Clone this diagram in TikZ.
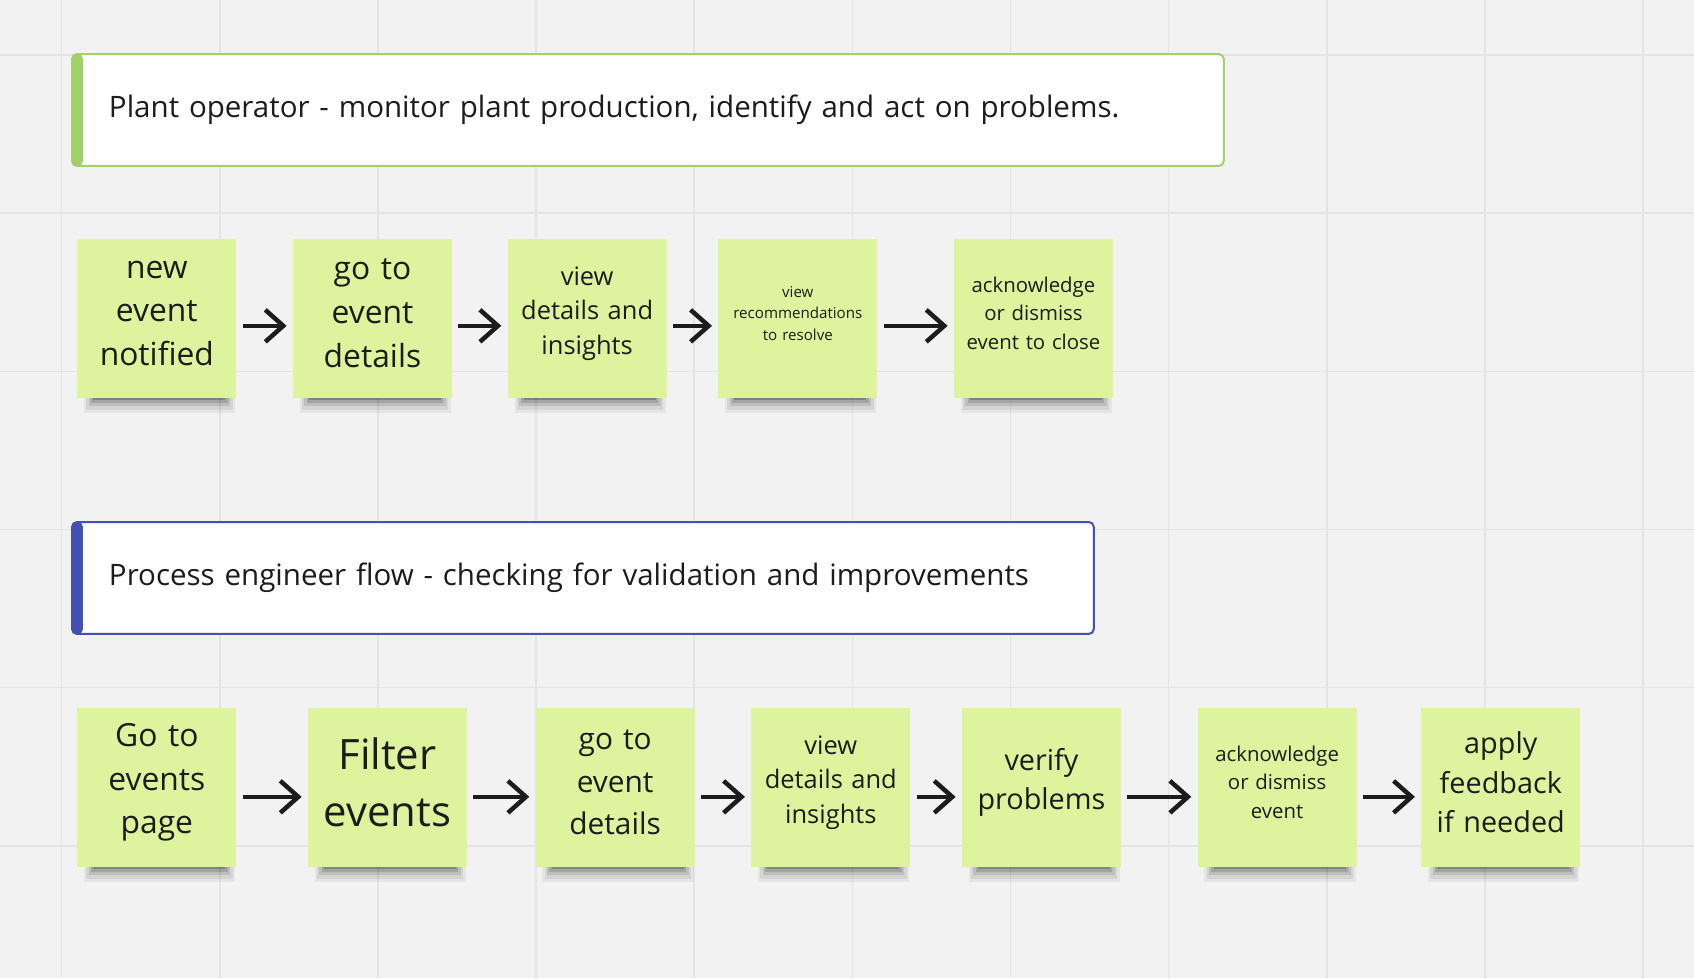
\documentclass[tikz,border=0pt]{standalone}
\usepackage{fontspec}
\setmainfont{Open Sans}
\usepackage{tikz}
\usetikzlibrary{arrows.meta, positioning, backgrounds, shadows}
\definecolor{boardGrey}{HTML}{F2F2F2}
\definecolor{boardLine}{HTML}{E4E4E4}
\definecolor{stickyLime}{HTML}{DEF39E}
\definecolor{hdrGreen}{HTML}{A2D06A}
\definecolor{hdrBlue}{HTML}{4251B3}
\definecolor{inkBlack}{HTML}{1C1C1C}

\begin{document}
\begin{tikzpicture}[
  x=0.02cm, y=-0.02cm,
  note/.style={fill=stickyLime, minimum width=3.18cm, minimum height=3.18cm, inner sep=0pt,
               text width=3.1cm, align=center, text=inkBlack,
               execute at end node={\endgraf\vspace*{0.22cm}},
               general shadow={fill=black, opacity=.05, shadow scale=.95, shadow xshift=.06cm, shadow yshift=-.400cm},
               general shadow={fill=black, opacity=.07, shadow scale=.92, shadow xshift=.06cm, shadow yshift=-.387cm},
               general shadow={fill=black, opacity=.10, shadow scale=.89, shadow xshift=.06cm, shadow yshift=-.375cm},
               general shadow={fill=black, opacity=.14, shadow scale=.86, shadow xshift=.06cm, shadow yshift=-.363cm},
               general shadow={fill=black, opacity=.20, shadow scale=.83, shadow xshift=.06cm, shadow yshift=-.370cm},
               general shadow={fill=black, opacity=.28, shadow scale=.80, shadow xshift=.06cm, shadow yshift=-.378cm}},
  fXL/.style={font=\fontsize{23.8}{32.3}\selectfont},
  fL/.style={font=\fontsize{18.1}{24.9}\selectfont},
  fL2/.style={font=\fontsize{17}{24.4}\selectfont},
  fML/.style={font=\fontsize{16.4}{22.4}\selectfont},
  fM/.style={font=\fontsize{14.5}{19.6}\selectfont},
  fS/.style={font=\fontsize{11.6}{16.2}\selectfont},
  fXS/.style={font=\fontsize{8.6}{12.1}\selectfont},
  hdr/.style={anchor=north west, fill=white, line width=0.04cm, rounded corners=0.1cm,
              minimum height=2.24cm, inner xsep=0.74cm, align=left, text=inkBlack,
              font=\fontsize{16.8}{22}\selectfont},
  op/.style={hdr, draw=hdrGreen, text width=21.56cm,
             path picture={\fill[hdrGreen] (path picture bounding box.north west) rectangle ([xshift=0.22cm]path picture bounding box.south west);}},
  eng/.style={hdr, draw=hdrBlue, text width=18.96cm,
              path picture={\fill[hdrBlue] (path picture bounding box.north west) rectangle ([xshift=0.22cm]path picture bounding box.south west);}},
  flow/.style={draw=inkBlack, line width=0.09cm, shorten <=0.12cm, shorten >=0.12cm,
               -{Straight Barb[length=0.36cm, width=0.64cm]}},
]
\useasboundingbox (0,0) rectangle (1694,978);

\node[op] (opHead) at (71,53) {Plant operator - monitor plant production, identify and act on problems.};
\node[eng] (engHead) at (71,521) {Process engineer flow - checking for validation and improvements};

\node[note, fL, anchor=north west] (op1) at (77,239) {new\\ event\\ notified};
\node[note, fL, right=1.12cm of op1] (op2) {go to\\ event\\ details};
\node[note, fM, right=1.10cm of op2] (op3) {view\\ details and\\ insights};
\node[note, fXS, right=1.02cm of op3] (op4) {view\\ recommendations\\ to resolve};
\node[note, fS, right=1.52cm of op4] (op5) {acknowledge\\ or dismiss\\ event to close};

\node[note, fL, anchor=north west] (pe1) at (77,708) {Go to\\ events\\ page};
\node[note, fXL, right=1.42cm of pe1] (pe2) {Filter\\ events};
\node[note, fL2, right=1.36cm of pe2] (pe3) {go to\\ event\\ details};
\node[note, fM, right=1.12cm of pe3] (pe4) {view\\ details and\\ insights};
\node[note, fML, right=1.02cm of pe4] (pe5) {verify\\ problems};
\node[note, fS, right=1.52cm of pe5] (pe6) {acknowledge\\ or dismiss\\ event};
\node[note, fML, right=1.28cm of pe6] (pe7) {apply\\ feedback\\ if needed};

\draw[flow] ([yshift=-0.14cm]op1.east) -- ([yshift=-0.14cm]op2.west);
\draw[flow] ([yshift=-0.14cm]op2.east) -- ([yshift=-0.14cm]op3.west);
\draw[flow] ([yshift=-0.14cm]op3.east) -- ([yshift=-0.14cm]op4.west);
\draw[flow] ([yshift=-0.14cm]op4.east) -- ([yshift=-0.14cm]op5.west);

\draw[flow] ([yshift=-0.18cm]pe1.east) -- ([yshift=-0.18cm]pe2.west);
\draw[flow] ([yshift=-0.18cm]pe2.east) -- ([yshift=-0.18cm]pe3.west);
\draw[flow] ([yshift=-0.18cm]pe3.east) -- ([yshift=-0.18cm]pe4.west);
\draw[flow] ([yshift=-0.18cm]pe4.east) -- ([yshift=-0.18cm]pe5.west);
\draw[flow] ([yshift=-0.18cm]pe5.east) -- ([yshift=-0.18cm]pe6.west);
\draw[flow] ([yshift=-0.18cm]pe6.east) -- ([yshift=-0.18cm]pe7.west);

\begin{scope}[on background layer]
  \fill[boardGrey] (0,0) rectangle (1694,978);
  \foreach \gx in {0,...,10}
    \draw[boardLine, line width=0.03cm] (61.6+158.15*\gx,0) -- ++(0,978);
  \foreach \gy in {0,...,5}
    \draw[boardLine, line width=0.03cm] (0,55+158.15*\gy) -- ++(1694,0);
\end{scope}
\end{tikzpicture}
\end{document}
